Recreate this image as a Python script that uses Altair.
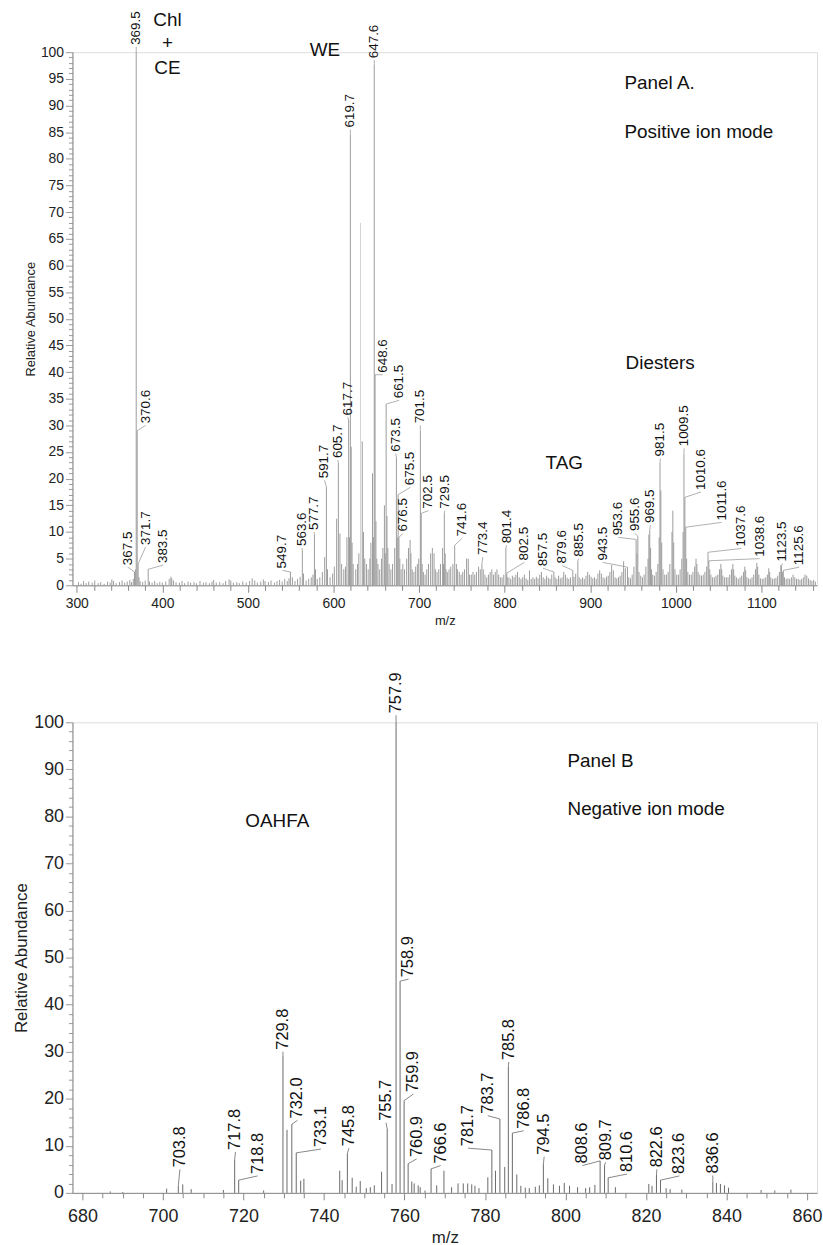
import altair as alt
import pandas as pd

FONT = "Liberation Sans"

# ---------------- Panel A (positive ion mode) ----------------
# labelled peaks: m/z, relative abundance, label anchor m/z, label anchor abundance
a_lab_mz = [367.5, 369.5, 370.6, 371.7, 383.5, 549.7, 563.6, 577.7, 591.7, 605.7, 617.7, 619.7,
            647.6, 648.6, 661.5, 673.5, 675.5, 676.5, 701.5, 702.5, 729.5, 741.6, 773.4, 801.4,
            802.5, 857.5, 879.6, 885.5, 943.5, 953.6, 955.6, 969.5, 981.5, 1009.5, 1010.6,
            1011.6, 1037.6, 1038.6, 1123.5, 1125.6]
a_lab_h = [2.5, 100, 29, 4, 3, 2.5, 6.5, 9.5, 18.5, 23, 31, 84.5,
           97.6, 39.5, 34, 24, 17, 9, 29, 13.5, 13.5, 7.5, 4, 7,
           2.3, 2.5, 2.8, 4.5, 3.4, 8.6, 9.2, 10.3, 23, 24.7, 16.5,
           10.9, 6.2, 4.6, 3.5, 2.8]
a_lab_x = [359.7, 369.5, 380.5, 380.5, 401.0, 540.4, 563.0, 577.5, 589.5, 605.0, 616.5, 619.7,
           647.6, 657.5, 676.8, 672.8, 690.0, 680.7, 701.5, 711.0, 730.0, 750.0, 774.5, 802.3,
           823.0, 844.8, 867.2, 886.6, 914.4, 932.9, 951.8, 970.3, 981.9, 1009.7, 1029.4,
           1053.4, 1076.6, 1097.8, 1124.5, 1144.2]
a_lab_y = [3.4, 101, 30, 7.2, 3.8, 2.8, 7.0, 10, 19.7, 23.5, 31.5, 85.5,
           98.5, 39.5, 34.7, 24.7, 18.4, 9.7, 30, 14, 14, 8.8, 5.3, 7.5,
           4.3, 3.2, 3.7, 5, 4.3, 9, 9.8, 11.3, 23.8, 25.7, 17.5,
           11.8, 6.9, 5, 4.1, 3.4]

# unlabelled peaks (m/z, abundance)
a_mz = [302, 305, 308, 311, 314, 318, 321, 325, 328, 332, 336, 339, 341, 343, 346, 350, 353, 356,
        359, 362, 364, 366, 368.5, 372.7, 374, 377, 380, 385, 388, 391, 394, 397, 400, 404, 408,
        410, 411, 413, 416, 420, 423, 426, 430, 433, 437, 440, 444, 448, 451, 455, 458, 460, 463,
        467, 471, 474, 478, 480, 483, 487, 490, 494, 498, 502, 505, 508, 511, 515, 518, 520, 524,
        527, 531, 534, 537, 540, 543, 546, 548, 552, 555, 558, 561, 565, 568, 571, 574, 576, 579,
        581, 584, 587, 589.7, 593, 596, 599, 601, 603.7, 607.5, 609.5, 612, 614, 615.7, 618.7,
        620.7, 621.7, 623, 626, 628, 629.6, 633.6, 635, 636.5, 638.5, 640.5, 642.5, 643.7, 645.6,
        646.6, 649.6, 650.6, 652, 654, 656, 657.7, 659.5, 660.5, 662.5, 663.5, 665, 667, 669,
        671.5, 674.5, 677.5, 679, 681, 683, 685.5, 687.6, 689.5, 690.5, 692, 694, 696, 698, 699.6,
        703.6, 705, 707, 709, 711, 713.5, 715.5, 717.5, 719, 721, 723, 725, 727.5, 728.5, 730.5,
        731.5, 733, 735, 737, 739.5, 743.6, 745, 747, 749, 751, 753, 755.5, 757.5, 759, 761, 763,
        765, 767, 769.5, 771.5, 775, 777, 779, 781, 783, 785, 787, 789, 791, 793, 795, 797, 799,
        803, 805, 807, 809, 811, 813, 815, 817, 819, 821, 823, 825, 827, 829, 831, 833, 835, 837,
        839, 841, 843, 845, 847, 849, 851, 853, 855, 859, 861, 863, 865, 867, 869, 871, 873, 875,
        877, 881, 883, 887, 889, 891, 893, 895, 897, 899, 901, 903, 905, 907, 909, 911, 913, 915,
        917, 919, 921, 923, 925, 927, 929, 931, 933, 935, 937, 939, 941, 945, 947, 949, 951,
        954.6, 957, 959, 961, 963, 965, 967.5, 968.5, 970.5, 971.5, 973, 975, 977, 979, 980.5,
        982.5, 983.5, 985, 987, 989, 991, 993, 995.5, 996.5, 997.5, 999, 1001, 1003, 1005, 1007,
        1008.5, 1012.6, 1014, 1016, 1018, 1020, 1022, 1023.6, 1024.6, 1026, 1028, 1030, 1032,
        1034, 1036, 1039.6, 1041, 1043, 1045, 1047, 1049, 1051, 1052.6, 1053.6, 1055, 1057, 1059,
        1061, 1063, 1065, 1066.6, 1067.6, 1069, 1071, 1073, 1075, 1077, 1079, 1080.6, 1081.6,
        1083, 1085, 1087, 1089, 1091, 1093, 1094.6, 1095.6, 1097, 1099, 1101, 1103, 1105, 1107,
        1108.6, 1109.6, 1111, 1113, 1115, 1117, 1119, 1121, 1122.6, 1124.5, 1127, 1129, 1131,
        1133, 1135, 1137, 1139, 1141, 1143, 1145, 1147, 1149, 1151, 1153, 1155, 1157, 1159, 1161,
        1163]
a_h = [0.6, 0.3, 0.8, 0.4, 0.7, 0.5, 0.9, 0.4, 0.6, 0.3, 0.7, 0.5, 1.1, 0.8, 0.4, 0.6, 0.9, 0.5,
       0.7, 1.0, 0.6, 1.2, 3.0, 1.5, 0.8, 0.6, 0.9, 0.7, 0.5, 0.8, 0.4, 0.6, 0.5, 0.7, 1.2,
       1.6, 1.3, 0.9, 0.6, 0.5, 0.8, 0.4, 0.7, 0.5, 0.6, 0.4, 0.8, 0.5, 0.6, 0.4, 0.7, 1.0, 0.5,
       0.6, 0.4, 0.8, 1.1, 0.9, 0.5, 0.6, 0.4, 0.7, 0.5, 0.8, 1.3, 0.9, 0.5, 0.7, 1.1, 0.8, 0.6,
       0.9, 0.5, 0.8, 1.0, 0.7, 1.2, 0.8, 1.3, 1.5, 0.8, 1.2, 1.6, 2.2, 0.9, 1.2, 1.5, 2.0, 3.0,
       1.2, 1.5, 2.5, 5.3, 3.0, 1.5, 2.2, 3.5, 12.5, 9.7, 4.0, 3.0, 3.5, 9.0, 9.0,
       26, 8.0, 4.0, 3.0, 4.0, 6.0, 27, 10, 5.0, 4.0, 3.0, 5.0, 8.0, 21,
       9.0, 12, 5.0, 4.0, 3.0, 5.0, 7.0, 15, 6.0, 13, 7.0, 4.0, 3.0, 4.0,
       7.0, 9.0, 5.0, 3.0, 4.0, 3.0, 5.0, 7.0, 8.5, 6.0, 3.0, 2.5, 3.5, 4.0, 5.0,
       4.0, 2.5, 2.0, 3.0, 4.0, 6.0, 7.0, 6.0, 3.0, 2.5, 3.0, 4.0, 7.0, 4.0, 6.0,
       3.0, 2.5, 3.0, 3.5, 4.0, 4.0, 3.0, 2.5, 2.0, 2.5, 3.0, 5.0, 5.0, 2.0, 2.0, 2.5,
       2.0, 2.5, 3.5, 3.0, 3.0, 2.0, 1.5, 2.0, 2.5, 3.0, 2.0, 2.5, 3.0, 2.0, 1.5, 1.5, 2.0,
       1.5, 1.5, 1.2, 1.8, 1.5, 2.0, 2.5, 1.5, 1.2, 1.5, 2.0, 1.3, 1.0, 2.8, 1.2, 1.5, 1.2, 1.6,
       1.3, 2.0, 2.5, 1.5, 1.2, 1.8, 1.4, 1.2, 2.0, 1.5, 1.2, 1.8, 1.3, 1.5, 2.5, 2.0, 1.4, 1.2,
       1.5, 1.6, 2.2, 1.5, 1.2, 1.5, 1.2, 1.8, 2.5, 2.0, 1.6, 1.3, 1.5, 1.2, 2.2, 2.8, 2.2, 1.5,
       1.3, 1.6, 1.8, 2.5, 3.8, 2.8, 1.5, 1.3, 1.5, 1.8, 2.5, 4.5, 3.2, 1.5, 1.3, 2.0, 3.5,
       6.0, 2.5, 1.8, 1.5, 2.0, 3.5, 5.0, 9.5, 7.0, 3.0, 2.0, 1.8, 2.5, 4.0, 9.0,
       17.8, 8.0, 3.0, 2.0, 2.0, 2.5, 4.0, 10, 14, 8.0, 3.0, 2.0, 2.0, 3.0, 5.0,
       10, 5.0, 2.5, 2.0, 2.0, 2.5, 3.5, 5.0, 4.0, 2.5, 2.0, 1.8, 2.0,
       2.5, 3.5, 3.0, 2.0, 1.5, 1.5, 1.8, 2.0, 3.0, 4.0, 3.0, 1.8, 1.5, 1.5,
       1.5, 2.0, 3.0, 4.0, 3.0, 1.8, 1.5, 1.2, 1.5, 1.8, 2.5, 3.5, 2.8,
       1.5, 1.3, 1.2, 1.5, 2.0, 3.0, 4.2, 3.5, 2.0, 1.3, 1.2, 1.3, 1.5, 2.0,
       3.2, 2.5, 1.5, 1.2, 1.3, 1.4, 1.8, 2.5, 3.8, 2.5, 1.5, 1.2, 1.3,
       1.2, 1.5, 2.0, 1.5, 1.2, 1.2, 1.0, 1.2, 1.5, 2.0, 1.8, 1.3, 1.0, 0.8, 1.0,
       0.7]
# faint (lighter trace) peak
a_faint_mz = [631.6]
a_faint_h = [68]

a_notes = ["Chl", "+", "CE", "WE", "TAG", "Diesters"]
a_notes_x = [406, 406, 406, 590, 869.6, 981.7]
a_notes_y = [106, 101.7, 97, 100.4, 23, 41.6]
a_side = ["Panel A.", "Positive ion mode"]
a_side_x = [940, 940]
a_side_y = [94.2, 85]

# ---------------- Panel B (negative ion mode) ----------------
b_lab_mz = [703.8, 717.8, 718.8, 729.8, 732.0, 733.1, 745.8, 755.7, 757.9, 758.9, 759.9, 760.9,
            766.6, 781.7, 783.7, 785.8, 786.8, 794.5, 808.6, 809.7, 810.6, 822.6, 823.6, 836.6]
b_lab_h = [1.5, 7.0, 2.7, 29.2, 14.6, 8.5, 8.4, 13.6, 100, 45, 19.6, 6.2,
           5.1, 9.1, 15.7, 26.8, 12.7, 6.1, 6.8, 5.9, 3.2, 3.8, 2.7, 2.4]
b_lab_x = [704.2, 718.0, 723.5, 729.8, 733.4, 739.2, 746.2, 755.4, 757.9, 761.0, 762.2, 763.0,
           769.0, 775.8, 780.7, 785.9, 789.6, 794.7, 804.2, 810.0, 815.3, 822.7, 828.3, 836.6]
b_lab_y = [5.0, 8.7, 3.6, 30, 15.4, 9.3, 9.5, 14.9, 101.5, 45.4, 21, 7.2,
           5.8, 9.5, 16.4, 27.8, 13.2, 7.7, 5.8, 6.5, 4.0, 5.0, 3.6, 3.7]

b_mz = [686.9, 690.0, 700.9, 704.9, 707.0, 715.0, 725.0, 730.8, 734.2, 735.0, 743.9, 744.5,
        747.0, 748.0, 749.0, 750.5, 751.5, 752.5, 754.3, 756.9, 761.8, 762.4, 763.4, 763.9,
        765.1, 768.0, 769.8, 771.7, 773.3, 774.6, 775.7, 776.7, 777.5, 778.5, 780.7, 782.6,
        784.9, 787.9, 788.9, 790.0, 791.0, 792.5, 793.5, 795.6, 797.0, 798.5, 799.7, 801.0,
        803.0, 805.0, 806.0, 807.3, 812.4, 820.7, 821.5, 825.0, 826.0, 828.9, 837.5, 838.5,
        839.5, 840.5, 848.6, 852.0, 856.0]
b_h = [0.3, 0.2, 0.9, 1.8, 0.8, 0.6, 0.5, 13.4, 2.6, 3.0, 4.7, 2.7,
       3.2, 1.3, 2.5, 1.0, 1.2, 1.6, 4.5, 1.9, 2.4, 2.0, 1.6, 1.2,
       0.5, 1.6, 4.7, 1.2, 2.0, 2.0, 2.0, 1.8, 1.5, 1.0, 3.3, 4.7,
       5.5, 3.9, 1.5, 1.1, 1.0, 1.3, 1.6, 3.1, 1.8, 1.5, 2.1, 1.5,
       1.2, 1.0, 1.2, 1.7, 1.2, 1.9, 1.5, 1.0, 0.8, 0.7, 2.1, 1.9,
       1.6, 1.1, 0.6, 0.5, 0.7]

b_notes = ["OAHFA"]
b_notes_x = [728.4]
b_notes_y = [79]
b_side = ["Panel B", "Negative ion mode"]
b_side_x = [800.5, 800.5]
b_side_y = [91.7, 81.5]


def build_panel(lab_mz, lab_h, lab_x, lab_y, mz, h, faint_mz, faint_h,
                notes, notes_x, notes_y, side, side_x, side_y,
                xdom, xticks, xlabel_every, yticks, ylabel_every,
                width, height, peak_color, lab_size, tick_size, title_size, note_size,
                xlab_pad, xtitle_pad):
    peaks = pd.DataFrame({"mz": list(mz) + list(lab_mz), "h": list(h) + list(lab_h)})
    labels = pd.DataFrame({"mz": lab_mz, "h": lab_h, "lx": lab_x, "ly": lab_y,
                           "txt": [f"{v:.1f}" for v in lab_mz]})
    xs = alt.Scale(domain=xdom, nice=False, zero=False)
    ys = alt.Scale(domain=[0, 100], nice=False)
    xaxis = alt.Axis(values=xticks, title="m/z", grid=False, format="d",
                     labelExpr=f"datum.value % {xlabel_every} == 0 ? datum.label : ''",
                     labelOverlap=False, labelFlush=False, labelFontSize=tick_size,
                     titleFontSize=title_size, titleFontWeight="normal",
                     titlePadding=xtitle_pad,
                     tickSize={"condition": {"test": f"datum.value % {xlabel_every} == 0",
                                             "value": 7}, "value": 5},
                     domainColor="#888", tickColor="#888", labelColor="#222",
                     titleColor="#222", labelPadding=xlab_pad, labelFont=FONT, titleFont=FONT)
    yaxis = alt.Axis(values=yticks, title="Relative Abundance", grid=False, format="d",
                     labelExpr=f"datum.value % {ylabel_every} == 0 ? datum.label : ''",
                     labelOverlap=False, labelFlush=False, labelFontSize=tick_size,
                     titleFontSize=title_size, titleFontWeight="normal", titlePadding=3,
                     tickSize={"condition": {"test": f"datum.value % {ylabel_every} == 0",
                                             "value": 7}, "value": 4},
                     domainColor="#888", tickColor="#999", labelColor="#222",
                     titleColor="#222", labelPadding=2, labelFont=FONT, titleFont=FONT)

    def X(f):
        return alt.X(f, scale=xs, axis=xaxis)

    def Y(f):
        return alt.Y(f, scale=ys, axis=yaxis)

    base_peaks = alt.Chart(peaks).mark_rule(color=peak_color, strokeWidth=1).encode(
        x=X("mz:Q"), y=Y("h:Q"), y2=alt.datum(0))
    layers = [base_peaks]
    if faint_mz:
        faint = pd.DataFrame({"mz": faint_mz, "h": faint_h})
        layers.append(alt.Chart(faint).mark_rule(color="#d4d4d4", strokeWidth=1).encode(
            x=X("mz:Q"), y=Y("h:Q"), y2=alt.datum(0)))
    leaders = alt.Chart(labels).mark_rule(color=peak_color, strokeWidth=0.8).encode(
        x=X("mz:Q"), y=Y("h:Q"), x2="lx:Q", y2="ly:Q")
    texts = alt.Chart(labels).mark_text(angle=270, align="left", baseline="middle", dx=2,
                                        fontSize=lab_size, font=FONT, color="#111").encode(
        x=X("lx:Q"), y=Y("ly:Q"), text="txt:N")
    nd = pd.DataFrame({"t": notes, "x": notes_x, "y": notes_y})
    note_marks = alt.Chart(nd).mark_text(fontSize=note_size, font=FONT, color="#111",
                                         align="center", baseline="middle").encode(
        x=X("x:Q"), y=Y("y:Q"), text="t:N")
    sd = pd.DataFrame({"t": side, "x": side_x, "y": side_y})
    side_marks = alt.Chart(sd).mark_text(fontSize=note_size, font=FONT, color="#111",
                                         align="left", baseline="middle").encode(
        x=X("x:Q"), y=Y("y:Q"), text="t:N")
    layers += [leaders, texts, note_marks, side_marks]
    return alt.layer(*layers).properties(width=width, height=height)


panel_a = build_panel(a_lab_mz, a_lab_h, a_lab_x, a_lab_y, a_mz, a_h, a_faint_mz, a_faint_h,
                      a_notes, a_notes_x, a_notes_y, a_side, a_side_x, a_side_y,
                      [295, 1165], list(range(300, 1161, 20)), 100, list(range(0, 101)), 5,
                      750, 537, "#9c9c9c", 13.5, 14, 13, 19, 4, 4)
panel_b = build_panel(b_lab_mz, b_lab_h, b_lab_x, b_lab_y, b_mz, b_h, [], [],
                      b_notes, b_notes_x, b_notes_y, b_side, b_side_x, b_side_y,
                      [677.5, 862.5], list(range(680, 861, 5)), 20, list(range(0, 101, 2)), 10,
                      750, 474, "#6a6a6a", 16.5, 18, 17, 19, 8, 4)

chart = alt.vconcat(panel_a, panel_b, spacing=44).properties(
    padding={"left": 12, "top": 6, "right": 0, "bottom": 0}
).configure_view(strokeWidth=0).configure(background="white")

chart.save("out.html", embed_options={"renderer": "svg", "actions": False})
